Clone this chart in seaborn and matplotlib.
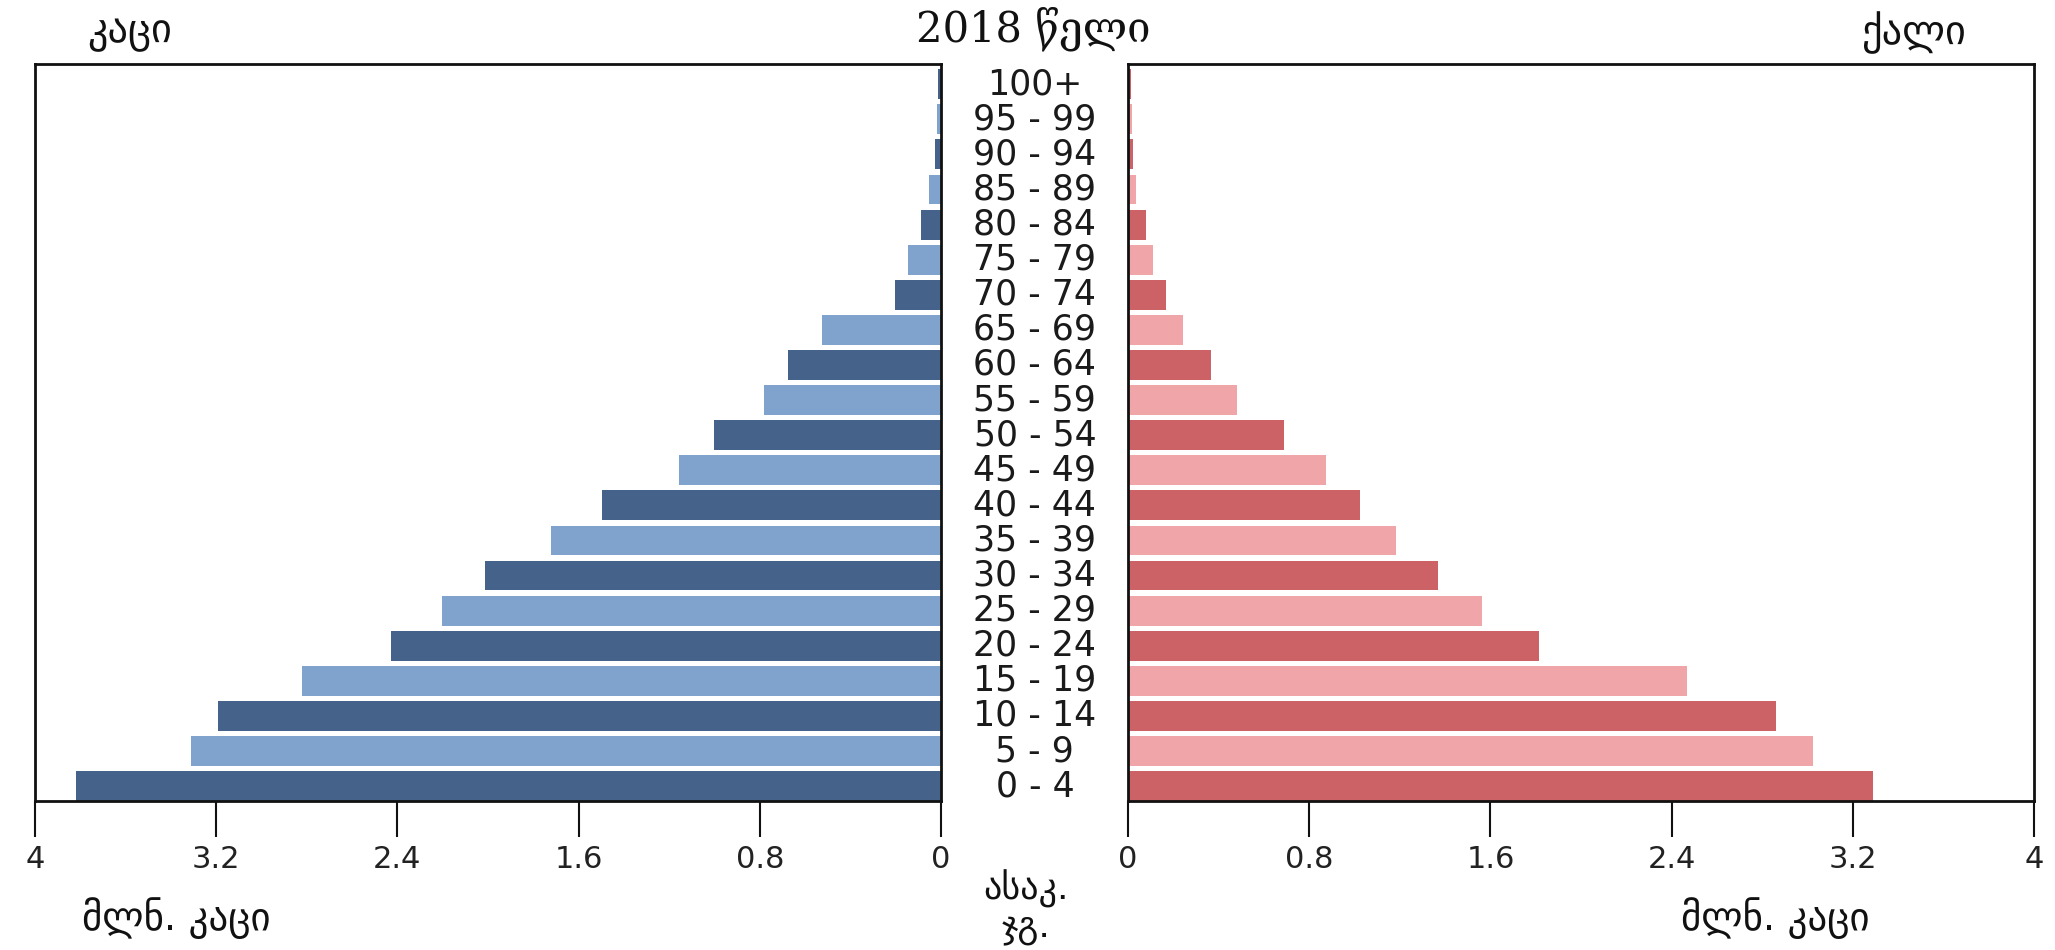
import matplotlib
matplotlib.use("Agg")
import matplotlib.pyplot as plt
import matplotlib.transforms as mtransforms
import seaborn as sns

# age groups, top to bottom
age_groups = ["100+", "95 - 99", "90 - 94", "85 - 89", "80 - 84", "75 - 79",
              "70 - 74", "65 - 69", "60 - 64", "55 - 59", "50 - 54", "45 - 49",
              "40 - 44", "35 - 39", "30 - 34", "25 - 29", "20 - 24", "15 - 19",
              "10 - 14", "5 - 9", "0 - 4"]

# millions of people
male = [0.012, 0.018, 0.025, 0.055, 0.088, 0.145, 0.205, 0.525, 0.677, 0.78,
        1.0, 1.155, 1.495, 1.72, 2.015, 2.205, 2.43, 2.82, 3.19, 3.31, 3.82]
female = [0.012, 0.016, 0.022, 0.037, 0.08, 0.11, 0.17, 0.245, 0.365, 0.48,
          0.69, 0.875, 1.025, 1.185, 1.37, 1.565, 1.815, 2.47, 2.86, 3.025, 3.29]

male_colors = ["#44628a", "#7fa3cc"]
female_colors = ["#cc6266", "#f0a6a9"]

tick_values = [0, 0.8, 1.6, 2.4, 3.2, 4]
tick_labels = ["0", "0.8", "1.6", "2.4", "3.2", "4"]

title_text = "2018 წელი"
male_text = "კაცი"
female_text = "ქალი"
unit_text = "მლნ. კაცი"
age_text = "ასაკ.\nჯგ."

sns.set_style("white")
plt.rcParams['font.family'] = ['DejaVu Sans']

fig = plt.figure(figsize=(20.55, 9.5), dpi=100)
ax_m = fig.add_axes([0.0170, 0.1568, 0.4409, 0.7758])
ax_f = fig.add_axes([0.5489, 0.1568, 0.4409, 0.7758])

n = len(age_groups)
pal_m = [male_colors[i % 2] for i in range(n)]
pal_f = [female_colors[i % 2] for i in range(n)]

sns.barplot(x=male, y=age_groups, hue=age_groups, palette=pal_m, legend=False,
            orient="h", width=0.85, ax=ax_m, saturation=1, linewidth=0)
sns.barplot(x=female, y=age_groups, hue=age_groups, palette=pal_f, legend=False,
            orient="h", width=0.85, ax=ax_f, saturation=1, linewidth=0)

for ax in (ax_m, ax_f):
    ax.set_ylim(n - 1 + 0.425, n - 1 + 0.425 - n)
    ax.set_yticks([])
    ax.set_xlabel("")
    ax.set_ylabel("")
    ax.set_xticks(tick_values)
    ax.set_xticklabels(tick_labels)
    ax.tick_params(axis="x", bottom=True, direction="out", length=26, width=1.5,
                   color="#111111", labelsize=22, labelcolor="#222222", pad=6)
    for sp in ax.spines.values():
        sp.set_visible(True)
        sp.set_color("#111111")
        sp.set_linewidth(2)

ax_m.set_xlim(4, 0)
ax_f.set_xlim(0, 4)

# age labels in the gap between the two panels
trans = mtransforms.blended_transform_factory(fig.transFigure, ax_f.transData)
for i, lab in enumerate(age_groups):
    ax_f.text(0.5036, i, lab, transform=trans, ha="center", va="center",
              fontsize=25, color="#1a1a1a", clip_on=False)

fig.text(0.5027, 0.970, title_text, ha="center", va="center", fontsize=30,
         family=["DejaVu Serif", "DejaVu Sans"], color="#111111")
fig.text(0.0630, 0.966, male_text, ha="center", va="center", fontsize=29, color="#111111")
fig.text(0.9310, 0.966, female_text, ha="center", va="center", fontsize=29, color="#111111")
fig.text(0.0856, 0.034, unit_text, ha="center", va="center", fontsize=28, color="#111111")
fig.text(0.8640, 0.034, unit_text, ha="center", va="center", fontsize=28, color="#111111")
fig.text(0.4995, 0.045, age_text, ha="center", va="center", fontsize=26,
         linespacing=1.05, color="#111111")

fig.savefig("out.png", dpi=100, facecolor="white")
